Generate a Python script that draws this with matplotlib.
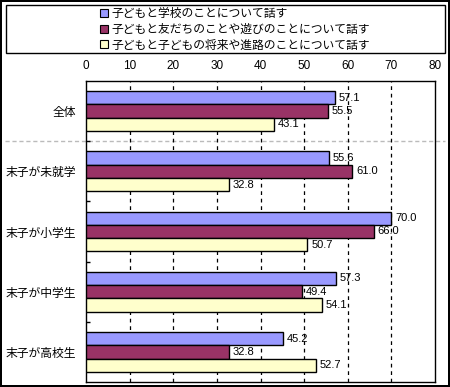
import matplotlib
matplotlib.use("Agg")
import matplotlib.pyplot as plt
from matplotlib.patches import Patch, Rectangle
import numpy as np

plt.rcParams['font.family'] = ['Noto Sans CJK JP', 'DejaVu Sans']

categories = ["全体", "末子が未就学", "末子が小学生", "末子が中学生", "末子が高校生"]
series_names = ["子どもと学校のことについて話す",
                "子どもと友だちのことや遊びのことについて話す",
                "子どもと子どもの将来や進路のことについて話す"]
school = [57.1, 55.6, 70.0, 57.3, 45.2]
friends = [55.5, 61.0, 66.0, 49.4, 32.8]
future = [43.1, 32.8, 50.7, 54.1, 52.7]
colors = ["#9999FF", "#993366", "#FFFFCC"]
xticks = [0, 10, 20, 30, 40, 50, 60, 70, 80]

fig = plt.figure(figsize=(4.5, 3.87), dpi=100)
ax = fig.add_axes([86/450, 5/387, 349/450, 301/387])

y = np.arange(len(categories))
h = 0.22
offsets = [-0.22, 0.0, 0.22]
for vals, off, c in zip([school, friends, future], offsets, colors):
    ax.barh(y + off, vals, height=h, color=c, edgecolor="black", linewidth=1, zorder=3)
    for yi, v in zip(y, vals):
        ax.text(v + 0.9, yi + off, f"{v:.1f}", va="center", ha="left",
                fontsize=8, family="Liberation Sans", zorder=4)

ax.set_xlim(0, 80)
ax.set_ylim(len(categories) - 0.5, -0.5)
ax.xaxis.tick_top()
ax.set_xticks(xticks)
ax.set_xticklabels([str(t) for t in xticks], family="Liberation Sans", fontsize=8.5)
ax.tick_params(axis="x", length=0, pad=6.5)
ax.set_yticks(y)
ax.set_yticklabels(categories, fontsize=8.5)
ax.tick_params(axis="y", length=0, pad=7)
ax.set_yticks(np.arange(0.5, len(categories) - 1, 1), minor=True)
ax.tick_params(axis="y", which="minor", direction="in", length=3, width=1)
for gx in xticks[1:-1]:
    ax.axvline(gx, color="black", linestyle=(0, (3, 3)), linewidth=0.9, zorder=1)
for s in ax.spines.values():
    s.set_linewidth(1)

# gray separator under the overall row
ax.axhline(0.5, xmin=-0.232, xmax=1.029, color="#bbbbbb", linestyle=(0, (3, 2)),
           linewidth=1, clip_on=False, zorder=0)

# legend box
fig.patches.append(Rectangle((6/450, 1 - 53/387), 439/450, 48/387, transform=fig.transFigure,
                             facecolor="white", edgecolor="black", linewidth=1))
handles = [Patch(facecolor=c, edgecolor="black", linewidth=0.8) for c in colors]
fig.legend(handles, series_names, loc="upper left", bbox_to_anchor=(92/450, 1 + 1/387),
           frameon=False, fontsize=8.5, handlelength=0.65, handleheight=0.65,
           handletextpad=0.3, labelspacing=0.22, borderpad=0.2)

fig.patch.set_edgecolor("black")
fig.patch.set_linewidth(1.5)

fig.savefig("out.png", dpi=100, edgecolor="black")
